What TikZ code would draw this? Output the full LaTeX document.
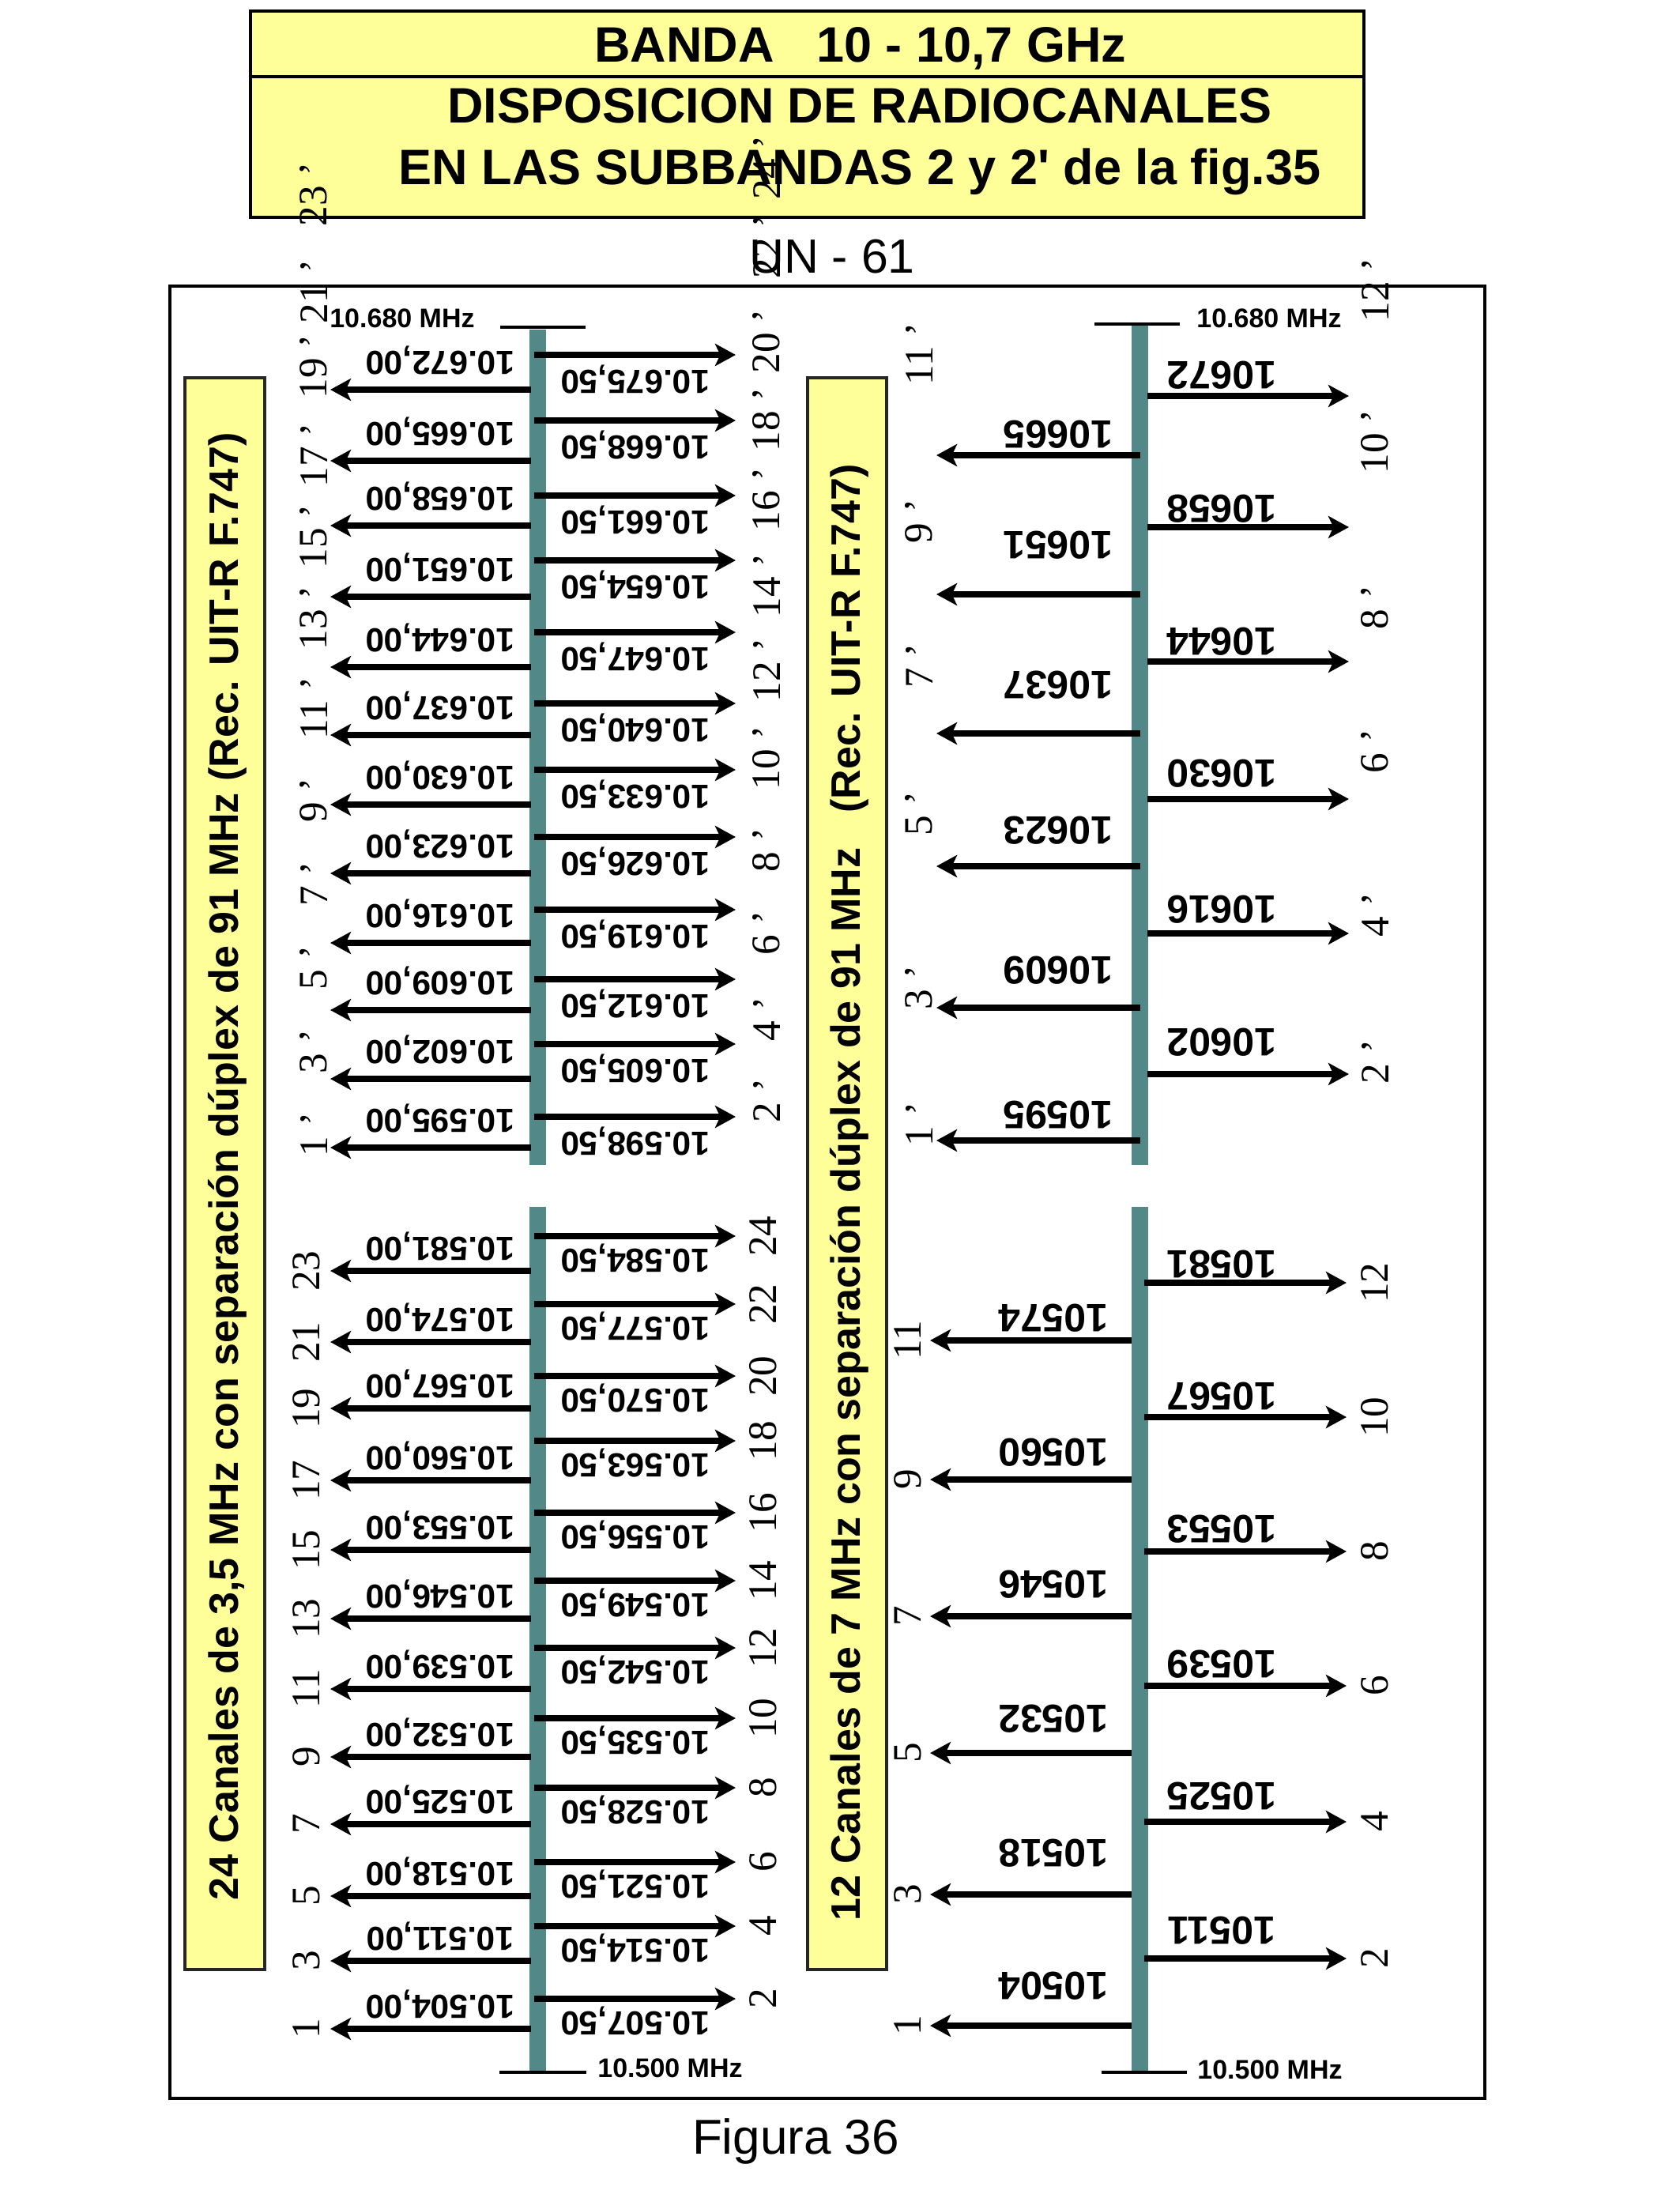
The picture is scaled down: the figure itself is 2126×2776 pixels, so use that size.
\documentclass[tikz,border=0pt]{standalone}
\usepackage{fontspec}
\setmainfont{Liberation Serif}
\newfontfamily\arial{Liberation Sans}
\usetikzlibrary{arrows.meta}
\definecolor{ylw}{RGB}{255,255,153}
\definecolor{tealbar}{RGB}{82,136,136}
\begin{document}
\begin{tikzpicture}[x=0.25pt,y=-0.25pt,
  arr/.style={line width=2pt,-{Stealth[length=6.5pt,width=7pt,inset=1.6pt]}},
  barbox/.style={fill=tealbar,draw=none},
  tickline/.style={line width=0.9pt},
  titletxt/.style={font=\arial\bfseries\fontsize{15.75}{18}\selectfont,inner sep=0},
  flab/.style={font=\arial\bfseries\fontsize{10.6}{12}\selectfont,rotate=180,inner sep=0},
  glab/.style={font=\arial\bfseries\fontsize{12.5}{14}\selectfont,rotate=180,inner sep=0},
  num/.style={font=\fontsize{12.8}{15}\selectfont,rotate=90,inner sep=0},
  mhz/.style={font=\arial\bfseries\fontsize{8.5}{10}\selectfont,inner sep=0},
  sidebox/.style={fill=ylw,draw=black!85,line width=0.8pt},
  sidetxt/.style={font=\arial\bfseries\fontsize{13}{15}\selectfont,rotate=90,inner sep=0}]
\useasboundingbox (0,0) rectangle (2126,2776);
% title
\draw[fill=ylw,line width=1pt] (317,14) rectangle (1726,275);
\draw[line width=1pt] (317,97) -- (1726,97);
\node[titletxt,anchor=base] (t1) at (1089,78) {BANDA\hspace{0.85em}10 - 10,7 GHz};
\node[titletxt,anchor=base] (t2) at (1088,155) {DISPOSICION DE RADIOCANALES};
\node[titletxt,anchor=base] (t3) at (1088,233) {EN LAS SUBBANDAS 2 y 2' de la fig.35};
\node[font=\arial\fontsize{15.2}{18}\selectfont,inner sep=0,anchor=base] (un) at (1053,345) {UN - 61};
\node[font=\arial\fontsize{15.5}{18}\selectfont,inner sep=0,anchor=base] (fig) at (1007,2725) {Figura 36};
% frame
\draw[line width=1pt] (215,362) rectangle (1879,2655);
% side boxes
\draw[sidebox] (234,478) rectangle (335,2492);
\draw[sidebox] (1022,478) rectangle (1122,2492);
\node[sidetxt] (s1) at (288,1476) {24 Canales de 3,5 MHz con separación dúplex de 91 MHz (Rec. UIT-R F.747)};
\node[sidetxt] (s2) at (1075,1509) {12 Canales de 7 MHz con separación dúplex de 91 MHz\hspace{0.85em}(Rec. UIT-R F.747)};
% bars
\fill[barbox] (670,417) rectangle (691,1474);
\fill[barbox] (670,1527) rectangle (691,2622);
\fill[barbox] (1432,408) rectangle (1453,1474);
\fill[barbox] (1432,1527) rectangle (1453,2622);
% ticks
\draw[tickline] (633,414) -- (741,414);
\draw[tickline] (632,2622) -- (742,2622);
\draw[tickline] (1385,410) -- (1493,410);
\draw[tickline] (1394,2622) -- (1502,2622);
\node[mhz] (m1) at (509,403) {10.680 MHz};
\node[mhz] (m2) at (848,2617) {10.500 MHz};
\node[mhz] (m3) at (1606,403) {10.680 MHz};
\node[mhz] (m4) at (1607,2619) {10.500 MHz};
% 24 channels, upper half
\foreach \y/\t [count=\k] in {493/10.672{,}00,583/10.665{,}00,665/10.658{,}00,755/10.651{,}00,844/10.644{,}00,930/10.637{,}00,1018/10.630{,}00,1105/10.623{,}00,1193/10.616{,}00,1278/10.609{,}00,1365/10.602{,}00,1452/10.595{,}00}{
  \coordinate (ula\k) at (672,\y);
  \coordinate (ulb\k) at (418,\y);
  \draw[arr] (ula\k) -- (ulb\k);
  \node[flab] (ull\k) at (557,\y-37) {\t};
}
\foreach \y/\t [count=\k] in {449/10.675{,}50,532/10.668{,}50,627/10.661{,}50,709/10.654{,}50,800/10.647{,}50,890/10.640{,}50,974/10.633{,}50,1059/10.626{,}50,1151/10.619{,}50,1239/10.612{,}50,1321/10.605{,}50,1413/10.598{,}50}{
  \coordinate (ura\k) at (676,\y);
  \coordinate (urb\k) at (931,\y);
  \draw[arr] (ura\k) -- (urb\k);
  \node[flab] (url\k) at (804,\y+31) {\t};
}
% 24 channels, lower half
\foreach \y/\t/\n [count=\k] in {1608/10.581{,}00/23,1698/10.574{,}00/21,1782/10.567{,}00/19,1873/10.560{,}00/17,1961/10.553{,}00/15,2048/10.546{,}00/13,2137/10.539{,}00/11,2223/10.532{,}00/9,2308/10.525{,}00/7,2399/10.518{,}00/5,2481/10.511{,}00/3,2567/10.504{,}00/1}{
  \coordinate (lla\k) at (672,\y);
  \coordinate (llb\k) at (418,\y);
  \draw[arr] (lla\k) -- (llb\k);
  \node[flab] (lll\k) at (557,\y-31) {\t};
  \node[num] (lln\k) at (388,\y) {\n};
}
\foreach \y/\t/\n [count=\k] in {1564/10.584{,}50/24,1650/10.577{,}50/22,1741/10.570{,}50/20,1823/10.563{,}50/18,1914/10.556{,}50/16,2000/10.549{,}50/14,2085/10.542{,}50/12,2174/10.535{,}50/10,2262/10.528{,}50/8,2356/10.521{,}50/6,2437/10.514{,}50/4,2529/10.507{,}50/2}{
  \coordinate (lra\k) at (676,\y);
  \coordinate (lrb\k) at (931,\y);
  \draw[arr] (lra\k) -- (lrb\k);
  \node[flab] (lrl\k) at (804,\y+28) {\t};
  \node[num] (lrn\k) at (966,\y) {\n};
}
% 12 channels, upper half
\foreach \y/\ly/\t [count=\k] in {501/475/10672,667/644/10658,837/812/10644,1011/979/10630,1181/1151/10616,1359/1319/10602}{
  \coordinate (gra\k) at (1452,\y);
  \coordinate (grb\k) at (1707,\y);
  \draw[arr] (gra\k) -- (grb\k);
  \node[glab] (grl\k) at (1546,\ly) {\t};
}
\foreach \y/\ly/\t [count=\k] in {576/550/10665,752/690/10651,928/867/10637,1096/1051/10623,1275/1228/10609,1443/1411/10595}{
  \coordinate (gla\k) at (1443,\y);
  \coordinate (glb\k) at (1185,\y);
  \draw[arr] (gla\k) -- (glb\k);
  \node[glab] (gll\k) at (1339,\ly) {\t};
}
% 12 channels, lower half
\foreach \y/\ly/\t/\n [count=\k] in {1623/1600/10581/12,1793/1767/10567/10,1963/1935/10553/8,2133/2106/10539/6,2305/2273/10525/4,2478/2443/10511/2}{
  \coordinate (hra\k) at (1448,\y);
  \coordinate (hrb\k) at (1704,\y);
  \draw[arr] (hra\k) -- (hrb\k);
  \node[glab] (hrl\k) at (1546,\ly) {\t};
  \node[num] (hrn\k) at (1740,\y) {\n};
}
\foreach \y/\ly/\t/\n [count=\k] in {1696/1668/10574/11,1872/1838/10560/9,2045/2005/10546/7,2218/2175/10532/5,2397/2345/10518/3,2563/2513/10504/1}{
  \coordinate (hla\k) at (1432,\y);
  \coordinate (hlb\k) at (1177,\y);
  \draw[arr] (hla\k) -- (hlb\k);
  \node[glab] (hll\k) at (1333,\ly) {\t};
  \node[num] (hln\k) at (1149,\y) {\n};
}
% primed channel numbers (upper halves)
\foreach \y/\n [count=\k] in {1464/1,1359/3,1253/5,1147/7,1041/9,936/11,823/13,720/15,617/17,505/19,410/21,287/23}{
  \node[num,anchor=west] (pa\k) at (397,\y) {\n\ ’};
}
\foreach \y/\n [count=\k] in {1421/2,1318/4,1209/6,1104/8,1000/10,889/12,782/14,673/16,572/18,473/20,353/22,253/24}{
  \node[num,anchor=west] (pb\k) at (970,\y) {\n\ ’};
}
\foreach \y/\n [count=\k] in {1451/1,1278/3,1058/5,871/7,688/9,488/11}{
  \node[num,anchor=west] (pc\k) at (1163,\y) {\n\ ’};
}
\foreach \y/\n [count=\k] in {1372/2,1186/4,979/6,797/8,600/10,408/12}{
  \node[num,anchor=west] (pd\k) at (1740,\y) {\n\ ’};
}
\end{tikzpicture}
\end{document}
